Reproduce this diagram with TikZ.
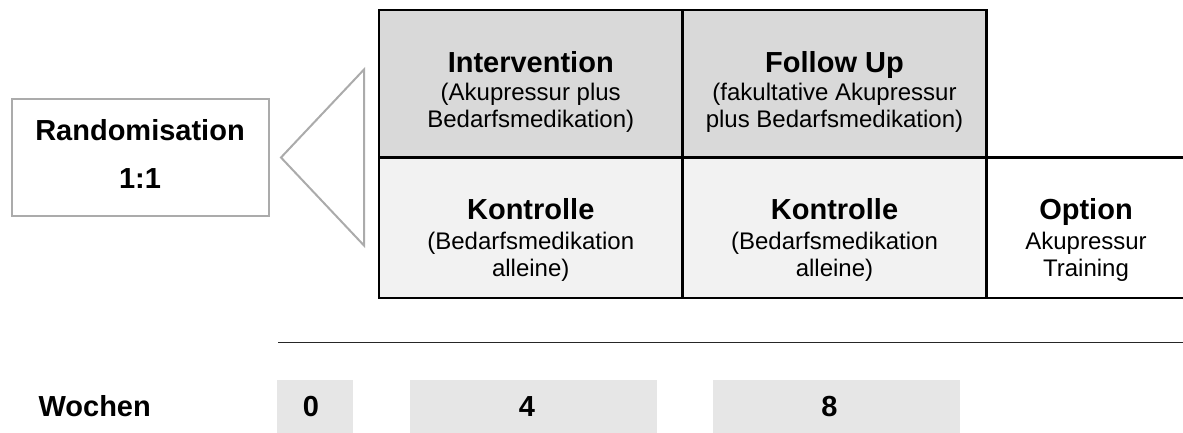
\documentclass[tikz,border=0pt]{standalone}
\usepackage{fontspec}
\setmainfont{Liberation Sans}
\definecolor{topfill}{HTML}{D9D9D9}
\definecolor{botfill}{HTML}{F2F2F2}
\definecolor{weekfill}{HTML}{E6E6E6}
\definecolor{randgray}{HTML}{ABABAB}
\definecolor{tlgray}{HTML}{262626}
\begin{document}
\begin{tikzpicture}[x=1pt,y=-1pt,
  cellbox/.style={rectangle, inner sep=0pt, outer sep=0pt, anchor=north west},
  gridline/.style={draw=black, line width=2.2pt},
  weekbox/.style={rectangle, fill=weekfill, inner sep=0pt, outer sep=0pt, anchor=north west, minimum height=53pt},
  boldtxt/.style={font=\fontsize{29}{33}\selectfont\bfseries, anchor=base, inner sep=0pt},
  regtxt/.style={font=\fontsize{24}{28}\selectfont, anchor=base, inner sep=0pt},
]
\useasboundingbox (0,0) rectangle (1183,432);

% Randomisation box and triangle
\node[cellbox, draw=randgray, line width=2pt, minimum width=257.5pt, minimum height=116.5pt] (rand) at (11.5,99) {};
\coordinate (tA) at (281,157.5);
\coordinate (tT) at (364,69.5);
\coordinate (tB) at (364,245.5);
\draw[randgray, line width=2pt, line join=miter] (tA) -- (tT) -- (tB) -- cycle;
\node[boldtxt] (randT) at (140,140) {Randomisation};
\node[boldtxt] (randR) at (140,188) {1:1};

% Grid cells
\node[cellbox, fill=topfill, minimum width=303.5pt, minimum height=147.5pt] (int) at (379,10) {};
\node[cellbox, fill=topfill, minimum width=304pt, minimum height=147.5pt] (fu) at (682.5,10) {};
\node[cellbox, fill=botfill, minimum width=303.5pt, minimum height=140.5pt] (k1) at (379,157.5) {};
\node[cellbox, fill=botfill, minimum width=304pt, minimum height=140.5pt] (k2) at (682.5,157.5) {};
\node[cellbox, fill=white, minimum width=196.5pt, minimum height=140.5pt] (opt) at (986.5,157.5) {};

\draw[gridline] (int.north west) rectangle (int.south east);
\draw[gridline] (fu.north west) rectangle (fu.south east);
\draw[gridline] (k1.north west) rectangle (k1.south east);
\draw[gridline] (k2.north west) rectangle (k2.south east);
\draw[gridline] (opt.north west) -- (opt.north east);
\draw[gridline] (opt.south west) -- (opt.south east);

% Cell texts
\node[boldtxt] (intT) at (530.75,72.3) {Intervention};
\node[regtxt] (intA) at (530.75,100.7) {(Akupressur plus};
\node[regtxt] (intB) at (530.75,127.5) {Bedarfsmedikation)};

\node[boldtxt] (fuT) at (834.5,72.3) {Follow Up};
\node[regtxt] (fuA) at (834.5,100.7) {(fakultative Akupressur};
\node[regtxt] (fuB) at (834.5,127.5) {plus Bedarfsmedikation)};

\node[boldtxt] (k1T) at (530.75,219.3) {Kontrolle};
\node[regtxt] (k1A) at (530.75,249) {(Bedarfsmedikation};
\node[regtxt] (k1B) at (530.75,276) {alleine)};

\node[boldtxt] (k2T) at (834.5,219.3) {Kontrolle};
\node[regtxt] (k2A) at (834.5,249) {(Bedarfsmedikation};
\node[regtxt] (k2B) at (834.5,276) {alleine)};

\node[boldtxt] (optT) at (1086,219.3) {Option};
\node[regtxt] (optA) at (1086,249) {Akupressur};
\node[regtxt] (optB) at (1086,276) {Training};

% Timeline
\coordinate (tl1) at (278,342.5);
\coordinate (tl2) at (1183,342.5);
\draw[tlgray, line width=1.8pt] (tl1) -- (tl2);

% Weeks
\node[boldtxt] (wochen) at (94.7,416) {Wochen};
\node[weekbox, minimum width=76pt] (w0) at (277,380) {};
\node[weekbox, minimum width=247pt] (w4) at (410,380) {};
\node[weekbox, minimum width=247pt] (w8) at (713,380) {};
\node[boldtxt] (w0T) at (311,416) {0};
\node[boldtxt] (w4T) at (527,416) {4};
\node[boldtxt] (w8T) at (829.5,416) {8};
\end{tikzpicture}
\end{document}
